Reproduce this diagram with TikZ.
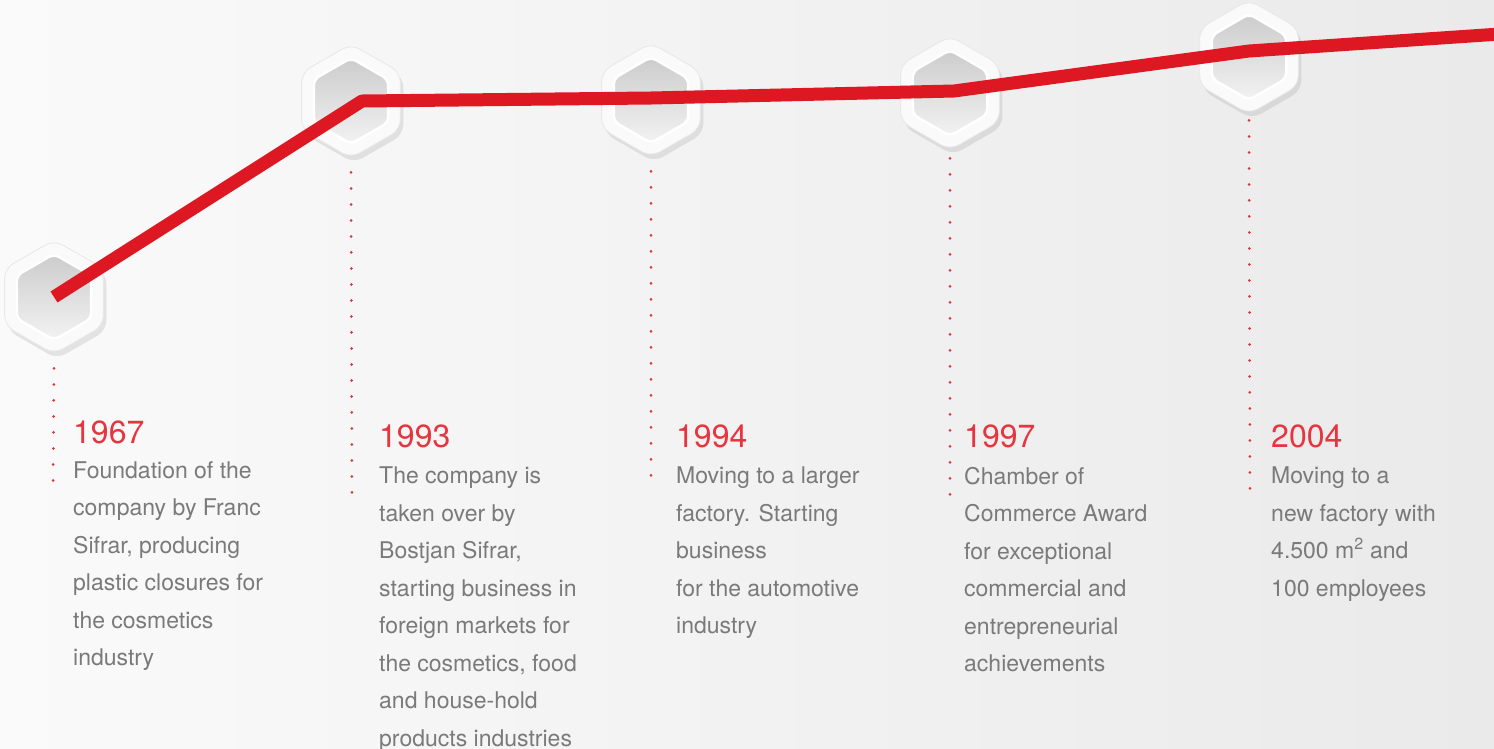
\documentclass[tikz,border=0pt]{standalone}
\usepackage{fontspec}
\setmainfont{TeX Gyre Heros}
\usepackage{tikz}
\usetikzlibrary{positioning, shapes.geometric, shadows}
\definecolor{linered}{RGB}{222,24,34}
\definecolor{yearred}{RGB}{232,52,62}
\definecolor{dotred}{RGB}{210,60,60}
\definecolor{textgray}{RGB}{122,122,122}
\definecolor{bgleft}{RGB}{250,250,250}
\definecolor{bgright}{RGB}{234,234,234}
\tikzset{
    hexouter/.style={
        regular polygon, regular polygon sides = 6,
        shape border rotate = 30,
        minimum size = 114pt, inner sep = 0pt,
        rounded corners = 10pt,
        fill = white!98!black, draw = gray!18, line width = 0.8pt,
        drop shadow = {opacity = 0.18, shadow xshift = 3pt, shadow yshift = -5pt}
    },
    hexinner/.style={
        regular polygon, regular polygon sides = 6,
        shape border rotate = 30,
        minimum size = 86pt, inner sep = 0pt,
        rounded corners = 6pt,
        top color = gray!40, bottom color = gray!10,
        draw = white, line width = 2.5pt
    },
    year/.style = {
        anchor = base west, inner sep = 0pt, text = yearred,
        font = \fontsize{32}{32}\selectfont
    },
    story/.style = {
        anchor = north west, inner sep = 0pt, align = left, text = textgray,
        font = \fontsize{23}{37.5}\selectfont
    },
    dots/.style = {dotred, line width = 3pt, line cap = round, dash pattern = on 0pt off 16pt},
    trend/.style = {linered, line width = 13pt, line join = round}
}

\begin{document}
\begin{tikzpicture}[x=1pt, y=-1pt]

    % Background
    \shade[left color = bgleft, right color = bgright] (0,0) rectangle (1494,748);
    \useasboundingbox (0,0) rectangle (1494,748);

    % Hexagons
    \node[hexouter] (hex67) at (54,297) {};
    \node[hexinner] (in67) at (hex67) {};
    \node[hexouter] (hex93) at (351,101) {};
    \node[hexinner] (in93) at (hex93) {};
    \node[hexouter] (hex94) at (651,100) {};
    \node[hexinner] (in94) at (hex94) {};
    \node[hexouter] (hex97) at (950,93) {};
    \node[hexinner] (in97) at (hex97) {};
    \node[hexouter] (hex04) at (1249,57) {};
    \node[hexinner] (in04) at (hex04) {};

    % Red line
    \coordinate (lineend) at (1500,34);
    \draw[trend] (in67.center) -- ([xshift=11pt]in93.center) -- ([yshift=2pt]in94.center)
        -- ([xshift=4pt, yshift=2pt]in97.center) -- ([yshift=6pt]in04.center) -- (lineend);

    % Years and texts
    \node[year] (year67) at (73,443) {1967};
    \node[story, below right = 18pt and 0pt of year67.base west] (txt67) {Foundation of the\\company by Franc\\Sifrar, producing\\plastic closures for\\the cosmetics\\industry};
    \node[year] (year93) at (379,447) {1993};
    \node[story, below right = 20pt and 0pt of year93.base west] (txt93) {The company is\\taken over by\\Bostjan Sifrar,\\starting business in\\foreign markets for\\the cosmetics, food\\and house-hold\\products industries};
    \node[year] (year94) at (676,447) {1994};
    \node[story, below right = 20pt and 0pt of year94.base west] (txt94) {Moving to a larger\\factory. Starting\\business\\for the automotive\\industry};
    \node[year] (year97) at (964,447) {1997};
    \node[story, below right = 20pt and 0pt of year97.base west] (txt97) {Chamber of\\Commerce Award\\for exceptional\\commercial and\\entrepreneurial\\achievements};
    \node[year] (year04) at (1271,447) {2004};
    \node[story, below right = 20pt and 0pt of year04.base west] (txt04) {Moving to a\\new factory with\\4.500 m\textsuperscript{2} and\\100 employees};

    % Dotted lines
    \coordinate (dot67) at (53,490);
    \coordinate (dot93) at (352,494);
    \coordinate (dot94) at (651,490);
    \coordinate (dot97) at (950,496);
    \coordinate (dot04) at (1250,490);
    \draw[dots] ([yshift=-14pt]hex67.south) -- (dot67);
    \draw[dots] ([yshift=-14pt]hex93.south) -- (dot93);
    \draw[dots] ([yshift=-14pt]hex94.south) -- (dot94);
    \draw[dots] ([yshift=-8pt]hex97.south) -- (dot97);
    \draw[dots] ([yshift=-6pt]hex04.south) -- (dot04);

\end{tikzpicture}
\end{document}
